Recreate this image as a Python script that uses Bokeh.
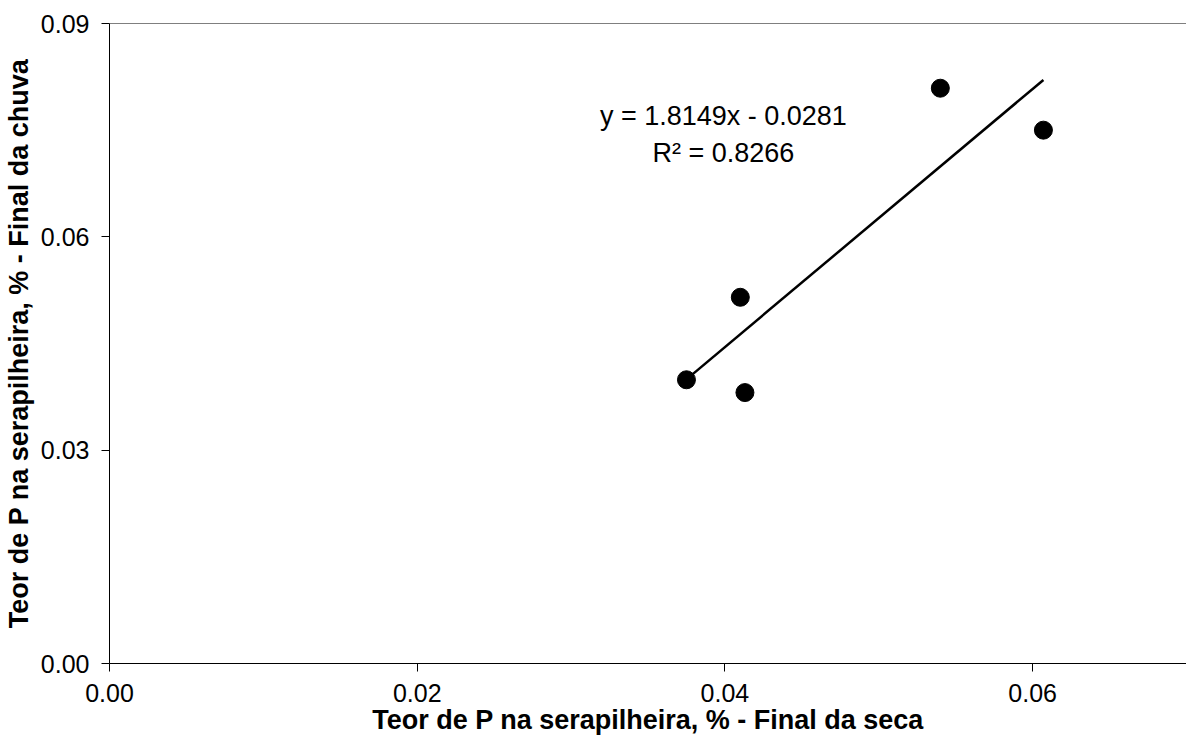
from bokeh.plotting import figure
from bokeh.models import Range1d, FixedTicker, NumeralTickFormatter, Label, Span
from bokeh.embed import file_html
from bokeh.resources import INLINE

# Data
x_seca = [0.0375, 0.0410, 0.0413, 0.0607, 0.0540]
y_chuva = [0.0399, 0.0515, 0.0381, 0.0750, 0.0809]

trend_slope = 1.8149
trend_intercept = -0.0281
r_squared = 0.8266

x_ticks = [0.0, 0.02, 0.04, 0.06]
y_ticks = [0.0, 0.03, 0.06, 0.09]
x_max = 0.07
y_max = 0.09

x_title = "Teor de P na serapilheira, % - Final da seca"
y_title = "Teor de P na serapilheira, % - Final da chuva"

FONT = "Liberation Sans"

p = figure(width=1186, height=741, output_backend="svg", toolbar_location=None,
           x_range=Range1d(0, x_max), y_range=Range1d(0, y_max),
           min_border_left=98, min_border_right=0, min_border_top=23, min_border_bottom=78)

p.background_fill_color = "white"
p.border_fill_color = "white"
p.outline_line_color = None
p.xgrid.grid_line_color = None
p.ygrid.grid_line_color = None

for ax, ticks, title in ((p.xaxis[0], x_ticks, x_title), (p.yaxis[0], y_ticks, y_title)):
    ax.ticker = FixedTicker(ticks=ticks)
    ax.formatter = NumeralTickFormatter(format="0.00")
    ax.axis_line_color = "black"
    ax.axis_line_width = 1
    ax.major_tick_line_color = "black"
    ax.major_tick_out = 8
    ax.major_tick_in = 0
    ax.minor_tick_line_color = None
    ax.major_label_text_font = FONT
    ax.major_label_text_font_size = "25px"
    ax.major_label_text_color = "black"
    ax.axis_label = title
    ax.axis_label_text_font = FONT
    ax.axis_label_text_font_size = "27px"
    ax.axis_label_text_font_style = "bold"
    ax.axis_label_text_color = "black"

p.xaxis.major_label_standoff = 12
p.xaxis.axis_label_standoff = 0
p.yaxis.major_label_standoff = 12
p.yaxis.axis_label_standoff = 4

# top border of plot area
p.add_layout(Span(location=y_max, dimension="width", line_color="black", line_width=1))

# trend line
xs = [min(x_seca), max(x_seca)]
ys = [trend_slope * v + trend_intercept for v in xs]
p.line(xs, ys, line_color="black", line_width=2.5)

# points
p.scatter(x_seca, y_chuva, size=18, marker="circle", fill_color="black", line_color="black")

eq1 = "y = %.4fx - %.4f" % (trend_slope, -trend_intercept)
eq2 = "R\u00b2 = %.4f" % r_squared
p.add_layout(Label(x=0.0399, y=0.0770, text=eq1, text_align="center", text_baseline="middle",
                   text_font=FONT, text_font_size="27px", text_color="black"))
p.add_layout(Label(x=0.0399, y=0.0718, text=eq2, text_align="center", text_baseline="middle",
                   text_font=FONT, text_font_size="27px", text_color="black"))

open("out.html", "w").write(file_html(p, INLINE))
